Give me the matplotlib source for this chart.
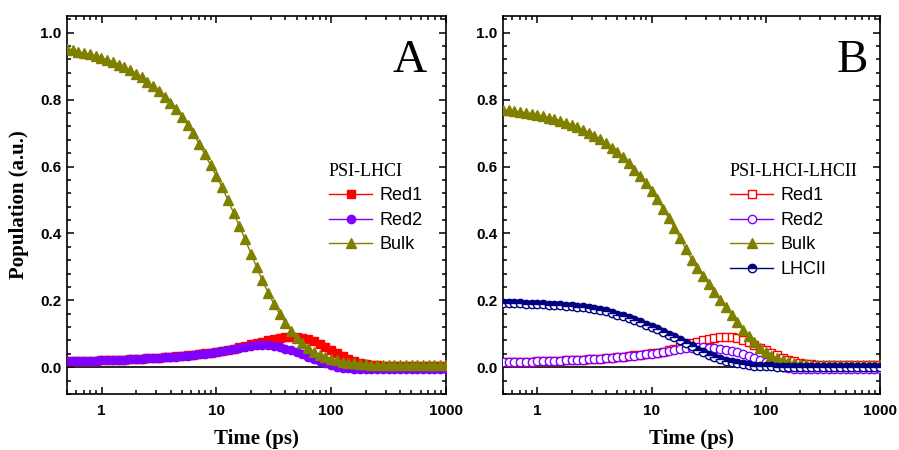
import matplotlib
matplotlib.use('Agg')
import matplotlib.pyplot as plt
from matplotlib.ticker import AutoMinorLocator, LogLocator, NullFormatter

# time grid (ps), ~20 points per decade
time_ps = [0.5, 0.561, 0.629, 0.706, 0.792, 0.889, 0.998,
           1.12, 1.26, 1.41, 1.58, 1.78, 2.00, 2.24, 2.51, 2.82, 3.16, 3.55, 3.98, 4.47, 5.01, 5.62, 6.31, 7.08, 7.94, 8.91,
           10.0, 11.2, 12.6, 14.1, 15.8, 17.8, 20.0, 22.4, 25.1, 28.2, 31.6, 35.5, 39.8, 44.7, 50.1, 56.2, 63.1, 70.8, 79.4, 89.1,
           100, 112, 126, 141, 158, 178, 200, 224, 251, 282, 316, 355, 398, 447, 501, 562, 631, 708, 794, 891,
           1000]

# panel A: PSI-LHCI
a_red1 = [0.018, 0.018, 0.019, 0.019, 0.020, 0.020, 0.021,
          0.021, 0.022, 0.023, 0.023, 0.024, 0.025, 0.026, 0.027, 0.028, 0.029, 0.030, 0.032, 0.033, 0.035, 0.036, 0.038, 0.040, 0.042, 0.044,
          0.047, 0.050, 0.053, 0.056, 0.060, 0.064, 0.068, 0.072, 0.076, 0.080, 0.084, 0.087, 0.089, 0.090, 0.089, 0.087, 0.083, 0.077, 0.070, 0.061,
          0.052, 0.043, 0.034, 0.026, 0.019, 0.014, 0.010, 0.008, 0.006, 0.005, 0.005, 0.004, 0.004, 0.004, 0.004, 0.004, 0.004, 0.004, 0.004, 0.004,
          0.004]
a_red2 = [0.018, 0.018, 0.019, 0.019, 0.020, 0.020, 0.021,
          0.021, 0.022, 0.023, 0.023, 0.024, 0.025, 0.026, 0.027, 0.028, 0.029, 0.030, 0.031, 0.032, 0.034, 0.035, 0.037, 0.039, 0.041, 0.043,
          0.046, 0.049, 0.052, 0.055, 0.058, 0.061, 0.063, 0.065, 0.066, 0.065, 0.063, 0.060, 0.056, 0.051, 0.045, 0.039, 0.032, 0.025, 0.018, 0.012,
          0.006, 0.002, -0.001, -0.003, -0.004, -0.005, -0.005, -0.006, -0.006, -0.006, -0.006, -0.006, -0.006, -0.006, -0.006, -0.006, -0.006, -0.006, -0.006, -0.006,
          -0.006]
a_bulk = [0.950, 0.947, 0.943, 0.939, 0.935, 0.930, 0.925,
          0.919, 0.912, 0.905, 0.897, 0.888, 0.878, 0.867, 0.854, 0.840, 0.826, 0.809, 0.791, 0.771, 0.749, 0.725, 0.699, 0.668, 0.636, 0.604,
          0.572, 0.538, 0.500, 0.462, 0.423, 0.382, 0.340, 0.300, 0.260, 0.223, 0.190, 0.160, 0.133, 0.109, 0.088, 0.071, 0.057, 0.046, 0.038, 0.031,
          0.026, 0.021, 0.017, 0.014, 0.012, 0.010, 0.009, 0.008, 0.008, 0.008, 0.008, 0.008, 0.008, 0.008, 0.008, 0.008, 0.008, 0.008, 0.008, 0.008,
          0.008]

# panel B: PSI-LHCI-LHCII
b_red1 = [0.015, 0.015, 0.016, 0.016, 0.017, 0.017, 0.018,
          0.018, 0.019, 0.019, 0.020, 0.021, 0.022, 0.022, 0.023, 0.024, 0.025, 0.026, 0.028, 0.029, 0.031, 0.032, 0.034, 0.036, 0.038, 0.040,
          0.042, 0.044, 0.047, 0.051, 0.056, 0.061, 0.066, 0.071, 0.076, 0.080, 0.084, 0.087, 0.089, 0.090, 0.089, 0.086, 0.081, 0.075, 0.067, 0.059,
          0.051, 0.043, 0.036, 0.029, 0.023, 0.018, 0.014, 0.011, 0.009, 0.008, 0.007, 0.006, 0.006, 0.006, 0.006, 0.006, 0.006, 0.006, 0.006, 0.006,
          0.006]
b_red2 = [0.015, 0.015, 0.016, 0.016, 0.017, 0.017, 0.018,
          0.018, 0.019, 0.019, 0.020, 0.021, 0.021, 0.022, 0.023, 0.024, 0.025, 0.026, 0.027, 0.028, 0.030, 0.031, 0.033, 0.035, 0.037, 0.039,
          0.041, 0.043, 0.046, 0.049, 0.052, 0.055, 0.057, 0.059, 0.060, 0.060, 0.059, 0.058, 0.056, 0.053, 0.049, 0.045, 0.040, 0.034, 0.028, 0.022,
          0.016, 0.010, 0.005, 0.001, -0.002, -0.004, -0.005, -0.006, -0.006, -0.006, -0.006, -0.006, -0.006, -0.006, -0.006, -0.006, -0.006, -0.006, -0.006, -0.006,
          -0.006]
b_bulk = [0.769, 0.768, 0.766, 0.763, 0.761, 0.758, 0.754,
          0.751, 0.746, 0.742, 0.737, 0.731, 0.725, 0.718, 0.710, 0.701, 0.692, 0.681, 0.669, 0.656, 0.642, 0.627, 0.610, 0.591, 0.571, 0.550,
          0.526, 0.502, 0.474, 0.447, 0.417, 0.385, 0.353, 0.322, 0.297, 0.273, 0.250, 0.225, 0.202, 0.180, 0.157, 0.134, 0.112, 0.092, 0.074, 0.058,
          0.045, 0.035, 0.027, 0.021, 0.016, 0.013, 0.011, 0.009, 0.008, 0.007, 0.006, 0.006, 0.006, 0.006, 0.006, 0.006, 0.006, 0.006, 0.006, 0.006,
          0.006]
b_lhcii = [0.192, 0.192, 0.191, 0.191, 0.190, 0.190, 0.189,
           0.188, 0.187, 0.186, 0.185, 0.184, 0.182, 0.181, 0.179, 0.176, 0.174, 0.171, 0.167, 0.162, 0.157, 0.152, 0.146, 0.140, 0.134, 0.127,
           0.120, 0.113, 0.105, 0.097, 0.089, 0.080, 0.071, 0.062, 0.053, 0.045, 0.038, 0.031, 0.025, 0.020, 0.016, 0.012, 0.009, 0.007, 0.005, 0.004,
           0.003, 0.003, 0.002, 0.002, 0.002, 0.002, 0.002, 0.002, 0.002, 0.002, 0.002, 0.002, 0.002, 0.002, 0.002, 0.002, 0.002, 0.002, 0.002, 0.002,
           0.002]

x_ticks = [1, 10, 100, 1000]
x_ticklabels = ['1', '10', '100', '1000']

RED = '#ff0000'
VIOLET = '#8000ff'
OLIVE = '#808000'
NAVY = '#000080'

SANS = 'Liberation Sans'
SERIF = 'Liberation Serif'
plt.rcParams['font.family'] = SANS

fig = plt.figure(figsize=(8.99, 4.5), dpi=100)
axA = fig.add_axes([67 / 899, 56 / 450, 379 / 899, 378 / 450])
axB = fig.add_axes([503 / 899, 56 / 450, 377 / 899, 378 / 450])


def style_axes(ax):
    ax.set_xscale('log')
    ax.set_xlim(0.5, 1000)
    ax.set_ylim(-0.08, 1.05)
    ax.axhline(0, color='black', lw=1.2, zorder=1)
    ax.set_xticks(x_ticks)
    ax.set_xticklabels(x_ticklabels)
    ax.xaxis.set_minor_locator(LogLocator(base=10, subs=range(2, 10), numticks=20))
    ax.xaxis.set_minor_formatter(NullFormatter())
    ax.set_yticks([0.0, 0.2, 0.4, 0.6, 0.8, 1.0])
    ax.set_yticklabels(['0.0', '0.2', '0.4', '0.6', '0.8', '1.0'])
    ax.yaxis.set_minor_locator(AutoMinorLocator(5))
    ax.tick_params(which='both', direction='in', top=True, right=True, width=1.1)
    ax.tick_params(which='major', length=5)
    ax.tick_params(which='minor', length=3)
    ax.tick_params(axis='x', which='major', pad=7)
    ax.tick_params(axis='y', which='major', pad=4)
    for lab in ax.get_xticklabels() + ax.get_yticklabels():
        lab.set_fontweight('bold')
        lab.set_fontsize(11)
        lab.set_family(SANS)
    for sp in ax.spines.values():
        sp.set_linewidth(1.2)
    ax.set_xlabel('Time (ps)', family=SERIF, fontweight='bold', fontsize=15, labelpad=8)


style_axes(axA)
style_axes(axB)

# panel A
axA.plot(time_ps, a_red1, color=RED, marker='s', ms=5.8, lw=1, label='Red1', zorder=3)
axA.plot(time_ps, a_red2, color=VIOLET, marker='o', ms=6, lw=1, label='Red2', zorder=3)
axA.plot(time_ps, a_bulk, color=OLIVE, marker='^', ms=6.5, lw=1, label='Bulk', zorder=4)
axA.set_ylabel('Population (a.u.)', family=SERIF, fontweight='bold', fontsize=15, labelpad=8)
axA.text(0.905, 0.852, 'A', transform=axA.transAxes, family=SERIF, fontsize=34, ha='center', va='baseline')

# panel B
axB.plot(time_ps, b_red1, color=RED, marker='s', ms=5.5, mfc='white', mec=RED, mew=1, lw=1, label='Red1', zorder=3)
axB.plot(time_ps, b_red2, color=VIOLET, marker='o', ms=6, mfc='white', mec=VIOLET, mew=1, lw=1, label='Red2', zorder=3)
axB.plot(time_ps, b_bulk, color=OLIVE, marker='^', ms=6.5, lw=1, label='Bulk', zorder=4)
axB.plot(time_ps, b_lhcii, color=NAVY, marker='o', ms=6, fillstyle='top', mfc=NAVY, mfcalt='white',
         mec=NAVY, mew=1, lw=1, label='LHCII', zorder=5)
axB.text(0.926, 0.852, 'B', transform=axB.transAxes, family=SERIF, fontsize=34, ha='center', va='baseline')

for ax, title, x0 in [(axA, 'PSI-LHCI', 0.691), (axB, 'PSI-LHCI-LHCII', 0.602)]:
    leg = ax.legend(loc='upper left', bbox_to_anchor=(x0, 0.612), frameon=False, numpoints=1,
                    prop={'family': SANS, 'size': 13}, title=title, alignment='left',
                    borderpad=0, borderaxespad=0, handlelength=2.4, handletextpad=0.4, labelspacing=0.42)
    leg.get_title().set_fontfamily(SERIF)
    leg.get_title().set_fontsize(13)

fig.savefig('out.png', dpi=100)
